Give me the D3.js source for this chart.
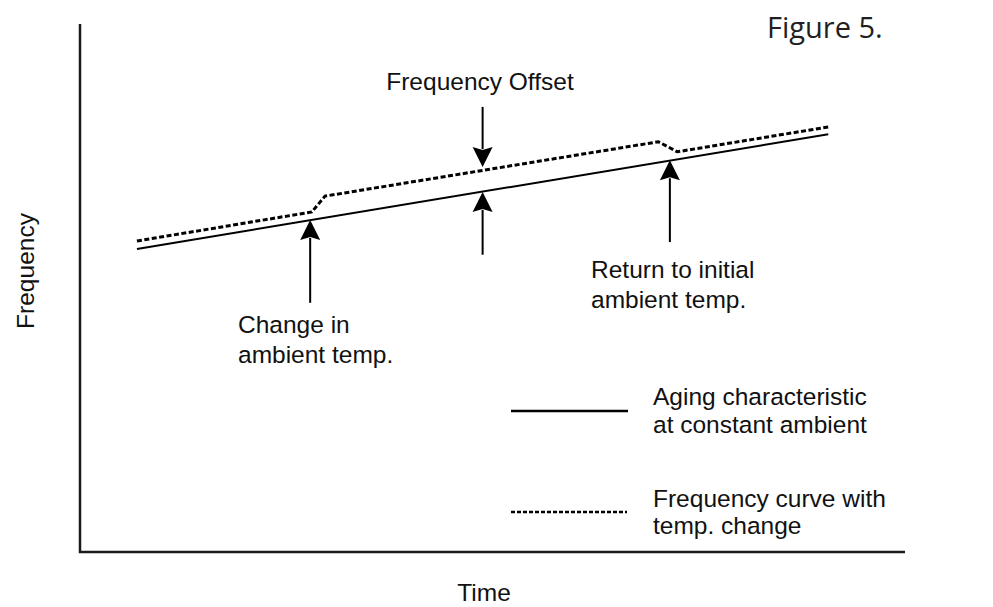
<!DOCTYPE html>
<html>
<head>
<meta charset="utf-8">
<script src="https://cdn.jsdelivr.net/npm/d3@7"></script>
<style>
  body { margin: 0; background: #fff; }
  text { font-family: "Liberation Sans", Arial, sans-serif; fill: #111; }
</style>
</head>
<body>
<svg id="chart" width="993" height="607"></svg>
<script>
/************************************ Data *******************************/
// time / frequency in arbitrary units (0..100)
var agingTime = [6.9, 90.7];
var agingFreq = [57.4, 79.1];

var curveTime = [6.9, 28.1, 29.7, 70.1, 72.4, 90.7];
var curveFreq = [58.9, 64.4, 67.4, 77.7, 75.8, 80.5];

// arrows : x, tip, tail
var arrowTime = [27.9, 48.8, 48.8, 71.5];
var arrowTip  = [62.9, 68.2, 72.9, 74.2];
var arrowTail = [47.2, 56.3, 84.3, 58.7];

var legendLabels = [["Aging characteristic", "at constant ambient"],
                    ["Frequency curve with", "temp. change"]];

/************************************ Scales *******************************/
var svg = d3.select("#chart");
var x = d3.scaleLinear().domain([0, 100]).range([80, 905]);
var y = d3.scaleLinear().domain([0, 100]).range([552, 24]);

// axes (no ticks, just the two lines)
svg.append("path")
   .attr("d", "M" + x(0) + "," + y(100) + "V" + y(0) + "H" + x(100))
   .attr("fill", "none").attr("stroke", "#1a1a1a").attr("stroke-width", 2.5);

var line = d3.line().x(function(d){ return x(d[0]); }).y(function(d){ return y(d[1]); });

svg.append("path")
   .attr("d", line(d3.zip(agingTime, agingFreq)))
   .attr("fill", "none").attr("stroke", "#000").attr("stroke-width", 2);

svg.append("path")
   .attr("d", line(d3.zip(curveTime, curveFreq)))
   .attr("fill", "none").attr("stroke", "#000").attr("stroke-width", 3)
   .attr("stroke-dasharray", "5,2.5");

/************************************ Arrows *******************************/
arrowTime.forEach(function(t, i){
  var ax = x(t), tip = y(arrowTip[i]), tail = y(arrowTail[i]);
  var dir = tail > tip ? 1 : -1; // 1 = pointing up
  var hh = 20, hw = 10;
  svg.append("line")
     .attr("x1", ax).attr("x2", ax)
     .attr("y1", tail).attr("y2", tip + dir * (hh - 2))
     .attr("stroke", "#000").attr("stroke-width", 2);
  svg.append("path")
     .attr("d", "M" + ax + "," + tip +
                "L" + (ax - hw) + "," + (tip + dir * hh) +
                "L" + ax + "," + (tip + dir * (hh - 3)) +
                "L" + (ax + hw) + "," + (tip + dir * hh) + "Z")
     .attr("fill", "#000");
});

/************************************ Labels *******************************/
function multiText(lines, px, py, lh, anchor) {
  var t = svg.append("text").attr("font-size", 24.5).attr("text-anchor", anchor || "start");
  lines.forEach(function(s, i){
    t.append("tspan").attr("x", px).attr("y", py + i * lh).text(s);
  });
}
multiText(["Frequency Offset"], 480, 90, 0, "middle");
multiText(["Return to initial", "ambient temp."], 591, 278, 30);
multiText(["Change in", "ambient temp."], 238, 333, 30);

svg.append("text").attr("font-size", 24.5).attr("text-anchor", "middle")
   .attr("transform", "translate(34,271) rotate(-90)").text("Frequency");
svg.append("text").attr("font-size", 24.5).attr("text-anchor", "middle")
   .attr("x", 484).attr("y", 601).text("Time");

svg.append("text").attr("x", 767).attr("y", 38)
   .attr("font-size", 29).style("font-family", "'Open Sans', 'Noto Sans', sans-serif")
   .style("fill", "#231f20").text("Figure 5.");

/************************************ Legend *******************************/
svg.append("line").attr("x1", 511).attr("x2", 628).attr("y1", 411).attr("y2", 411)
   .attr("stroke", "#000").attr("stroke-width", 2.5);
svg.append("line").attr("x1", 511).attr("x2", 627).attr("y1", 512).attr("y2", 512)
   .attr("stroke", "#000").attr("stroke-width", 2.5).attr("stroke-dasharray", "4,2");
multiText(legendLabels[0], 653, 405, 28);
multiText(legendLabels[1], 653, 507, 27);
</script>
</body>
</html>
